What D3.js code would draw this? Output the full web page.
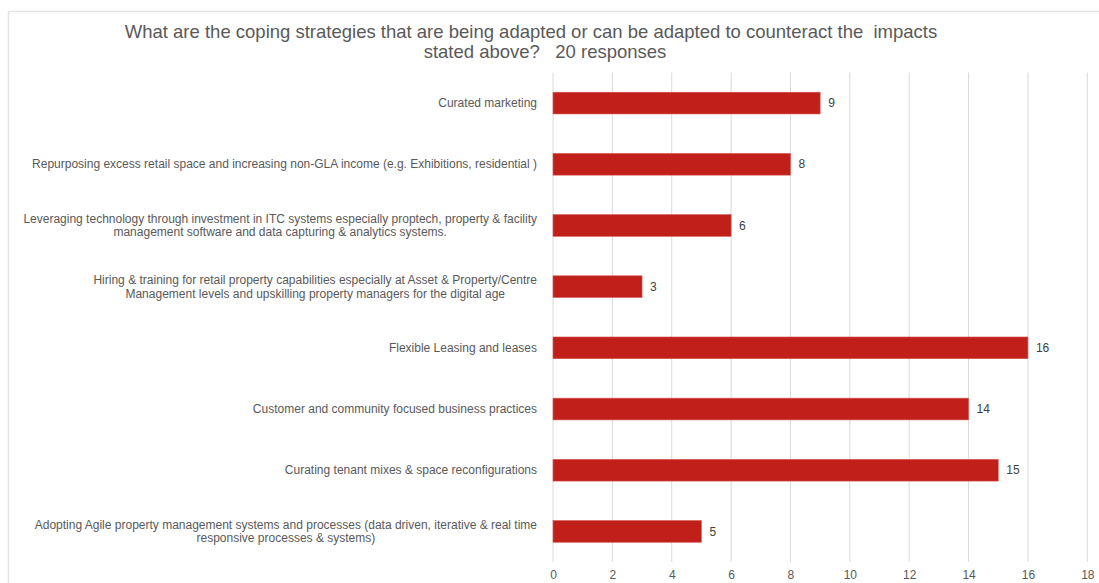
<!DOCTYPE html>
<html>
<head>
<meta charset="utf-8">
<script src="https://cdn.jsdelivr.net/npm/d3@7"></script>
<style>
  html, body { margin: 0; padding: 0; background: #fff; }
  svg { display: block; font-family: "Liberation Sans", Arial, sans-serif; }
</style>
</head>
<body>
<svg id="chart" width="1099" height="583"></svg>
<script>
// Survey responses per coping strategy (top to bottom)
const categories = [
  "Curated marketing",
  "Repurposing excess retail space and increasing non-GLA income (e.g. Exhibitions, residential )",
  "Leveraging technology through investment in ITC systems especially proptech, property & facility\nmanagement software and data capturing & analytics systems.",
  "Hiring & training for retail property capabilities especially at Asset & Property/Centre\nManagement levels and upskilling property managers for the digital age",
  "Flexible Leasing and leases",
  "Customer and community focused business practices",
  "Curating tenant mixes & space reconfigurations",
  "Adopting Agile property management systems and processes (data driven, iterative & real time\nresponsive processes & systems)"
];
const values = [9, 8, 6, 3, 16, 14, 15, 5];
const xTicks = [0, 2, 4, 6, 8, 10, 12, 14, 16, 18];
const titleLines = [
  "What are the coping strategies that are being adapted or can be adapted to counteract the  impacts",
  "stated above?   20 responses"
];

const svg = d3.select("#chart");
const W = 1099, H = 583;
const plot = { left: 553, right: 1087.3, top: 72.5, bottom: 562 };

// Chart area frame
svg.append("rect")
  .attr("x", 8.5).attr("y", 11.5)
  .attr("width", W + 20).attr("height", H + 20)
  .attr("fill", "#fff")
  .attr("stroke", "#e4e4e4")
  .attr("stroke-width", 1.5);

// Title
const title = svg.append("text")
  .attr("fill", "#595959")
  .attr("font-size", 18.5)
  .attr("text-anchor", "middle")
  .style("white-space", "pre");
title.append("tspan").attr("x", 531).attr("y", 37.5).text(titleLines[0]);
title.append("tspan").attr("x", 545).attr("y", 57.5).text(titleLines[1]);

const x = d3.scaleLinear().domain([0, 18]).range([plot.left, plot.right]);
const y = d3.scaleBand().domain(categories).range([plot.top, plot.bottom]).paddingInner(0.645).paddingOuter(0.3225);

// Vertical gridlines
svg.append("g")
  .selectAll("line")
  .data(xTicks)
  .join("line")
  .attr("x1", d => x(d)).attr("x2", d => x(d))
  .attr("y1", plot.top).attr("y2", plot.bottom)
  .attr("stroke", "#d9d9d9")
  .attr("stroke-width", 1);

// X axis tick labels
const xAxis = d3.axisBottom(x).tickValues(xTicks).tickSize(0).tickPadding(0).tickFormat(d3.format("d"));
const gx = svg.append("g")
  .attr("transform", `translate(0,${plot.bottom + 8})`)
  .call(xAxis);
gx.select(".domain").remove();
gx.selectAll("text")
  .attr("fill", "#595959")
  .attr("font-size", 12)
  .attr("font-family", "Liberation Sans, Arial, sans-serif")
  .attr("dy", "0.71em");

// Bars
svg.append("g")
  .selectAll("rect")
  .data(values)
  .join("rect")
  .attr("x", x(0))
  .attr("y", (d, i) => y(categories[i]))
  .attr("width", d => x(d) - x(0))
  .attr("height", y.bandwidth())
  .attr("fill", "#c1201a")
  .attr("stroke", "#d9574f")
  .attr("stroke-width", 0.6);

// Value labels
svg.append("g")
  .selectAll("text")
  .data(values)
  .join("text")
  .attr("x", d => x(d) + 8)
  .attr("y", (d, i) => y(categories[i]) + y.bandwidth() / 2)
  .attr("dy", "0.35em")
  .attr("fill", "#404040")
  .attr("font-size", 12)
  .text(d => d);

// Category labels: wrapped lines centred on each other, block right-aligned
const labelRight = 537;
const lineH = 13.5;
const lg = svg.append("g");
categories.forEach(cat => {
  const lines = cat.split("\n");
  const cy = y(cat) + y.bandwidth() / 2;
  const t = lg.append("text")
    .attr("fill", "#595959")
    .attr("font-size", 12)
    .attr("text-anchor", "middle");
  const spans = lines.map((ln, j) => t.append("tspan")
    .attr("y", cy + (j - (lines.length - 1) / 2) * lineH)
    .attr("dy", "0.35em")
    .text(ln));
  const widths = spans.map(s => s.node().getComputedTextLength());
  const wMax = d3.max(widths);
  spans.forEach(s => s.attr("x", labelRight - wMax / 2));
});
</script>
</body>
</html>
